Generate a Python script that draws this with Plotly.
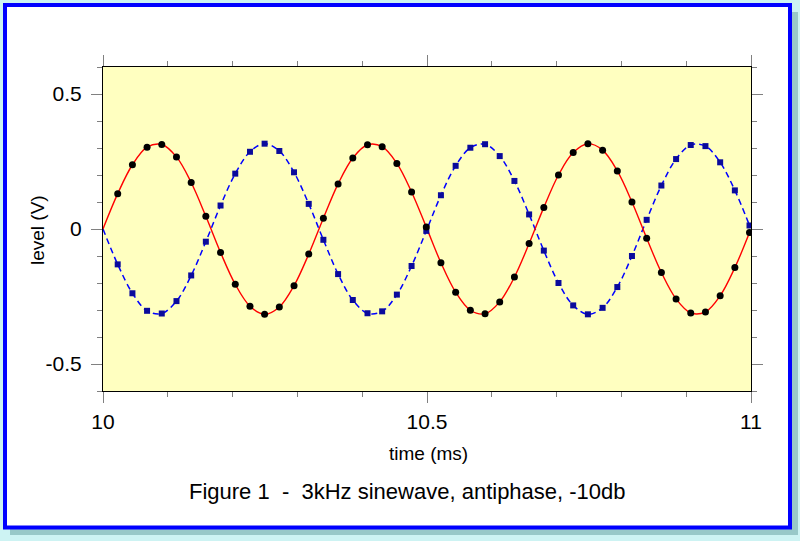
import plotly.graph_objects as go

# sample times (ms) at 44.1 kHz over 10..11 ms
t_ms = [10.0000, 10.0227, 10.0454, 10.0680, 10.0907, 10.1134, 10.1361, 10.1587, 10.1814,
        10.2041, 10.2268, 10.2494, 10.2721, 10.2948, 10.3175, 10.3401, 10.3628, 10.3855,
        10.4082, 10.4308, 10.4535, 10.4762, 10.4989, 10.5215, 10.5442, 10.5669, 10.5896,
        10.6122, 10.6349, 10.6576, 10.6803, 10.7029, 10.7256, 10.7483, 10.7710, 10.7937,
        10.8163, 10.8390, 10.8617, 10.8844, 10.9070, 10.9297, 10.9524, 10.9751, 10.9977]

# in-phase signal (red line, black dots)
level_a = [0.000, 0.131, 0.238, 0.303, 0.313, 0.267, 0.172, 0.047, -0.087,
           -0.205, -0.286, -0.316, -0.289, -0.210, -0.093, 0.040, 0.167, 0.263,
           0.312, 0.305, 0.243, 0.137, 0.007, -0.125, -0.234, -0.301, -0.314,
           -0.270, -0.178, -0.054, 0.080, 0.200, 0.283, 0.316, 0.292, 0.215,
           0.100, -0.034, -0.161, -0.259, -0.311, -0.307, -0.247, -0.143, -0.013]

# antiphase signal (blue dashed line, blue squares)
level_b = [0.000, -0.131, -0.238, -0.303, -0.313, -0.267, -0.172, -0.047, 0.087,
           0.205, 0.286, 0.316, 0.289, 0.210, 0.093, -0.040, -0.167, -0.263,
           -0.312, -0.305, -0.243, -0.137, -0.007, 0.125, 0.234, 0.301, 0.314,
           0.270, 0.178, 0.054, -0.080, -0.200, -0.283, -0.316, -0.292, -0.215,
           -0.100, 0.034, 0.161, 0.259, 0.311, 0.307, 0.247, 0.143, 0.013]

x_ticks = [10, 10.5, 11]
x_tick_labels = ["10", "10.5", "11"]
y_ticks = [-0.5, 0, 0.5]
y_tick_labels = ["-0.5", "0", "0.5"]

W, H = 800, 541
L, R, T, B = 103, 751, 67, 391


def px(x):
    return (x - L) / (R - L)


def py(y):
    return (B - y) / (B - T)


FONT = "Liberation Sans, Arial, Helvetica, sans-serif"

fig = go.Figure()

fig.add_trace(go.Scatter(x=t_ms, y=level_b, mode="lines", line_shape="spline",
                         line=dict(color="#0000ff", width=1.5, dash="6px,4px"),
                         hoverinfo="skip", showlegend=False))
fig.add_trace(go.Scatter(x=t_ms, y=level_a, mode="lines", line_shape="spline",
                         line=dict(color="#ff0000", width=1.4),
                         hoverinfo="skip", showlegend=False))
fig.add_trace(go.Scatter(x=t_ms[1:], y=level_b[1:], mode="markers",
                         marker=dict(symbol="square", size=6, color="#0a0a9c"),
                         showlegend=False))
fig.add_trace(go.Scatter(x=t_ms[1:], y=level_a[1:], mode="markers",
                         marker=dict(symbol="circle", size=7, color="#000000"),
                         showlegend=False))

shapes = [
    # shadow
    dict(type="rect", xref="paper", yref="paper", x0=px(10), x1=px(798), y0=py(12), y1=py(535),
         fillcolor="#98c8c8", line=dict(width=0), layer="below"),
    # white frame with blue border
    dict(type="rect", xref="paper", yref="paper", x0=px(5), x1=px(790), y0=py(5), y1=py(527.5),
         fillcolor="#ffffff", line=dict(color="#0000ff", width=4), layer="below"),
    # plot area background
    dict(type="rect", xref="paper", yref="paper", x0=0, x1=1, y0=0, y1=1,
         fillcolor="#ffffc0", line=dict(width=0), layer="below"),
]

annotations = [
    dict(text="time (ms)", x=px(428), y=py(453), xref="paper", yref="paper",
         xanchor="center", yanchor="middle",
         showarrow=False, font=dict(family=FONT, size=19, color="#000")),
    dict(text="level (V)", x=px(37), y=py(230), xref="paper", yref="paper", textangle=-90,
         xanchor="center", yanchor="middle",
         showarrow=False, font=dict(family=FONT, size=19, color="#000")),
    dict(text="Figure 1  -  3kHz sinewave, antiphase, -10db", x=px(407), y=py(491),
         xref="paper", yref="paper", xanchor="center", yanchor="middle", showarrow=False,
         font=dict(family=FONT, size=22, color="#000")),
]

axis_common = dict(showgrid=False, zeroline=False, showline=True, linecolor="#000",
                   linewidth=1.2, mirror="allticks", ticks="outside", ticklen=11,
                   tickcolor="#808080", tickwidth=1,
                   tickfont=dict(family=FONT, size=21, color="#000"))

fig.update_xaxes(range=[10, 11], tickvals=x_ticks, ticktext=x_tick_labels,
                 ticklabelstandoff=1,
                 minor=dict(ticks="outside", dtick=0.1, ticklen=5, tickcolor="#808080",
                            showgrid=False),
                 **axis_common)
fig.update_yaxes(range=[-0.6, 0.6], tickvals=y_ticks, ticktext=y_tick_labels,
                 ticklabelstandoff=5,
                 minor=dict(ticks="outside", dtick=0.1, ticklen=5, tickcolor="#808080",
                            showgrid=False),
                 **axis_common)

fig.update_layout(width=W, height=H, margin=dict(l=L, r=W - R, t=T, b=H - B),
                  paper_bgcolor="#cdf3f3", plot_bgcolor="rgba(0,0,0,0)",
                  shapes=shapes, annotations=annotations, showlegend=False)

fig.write_html("out.html")
